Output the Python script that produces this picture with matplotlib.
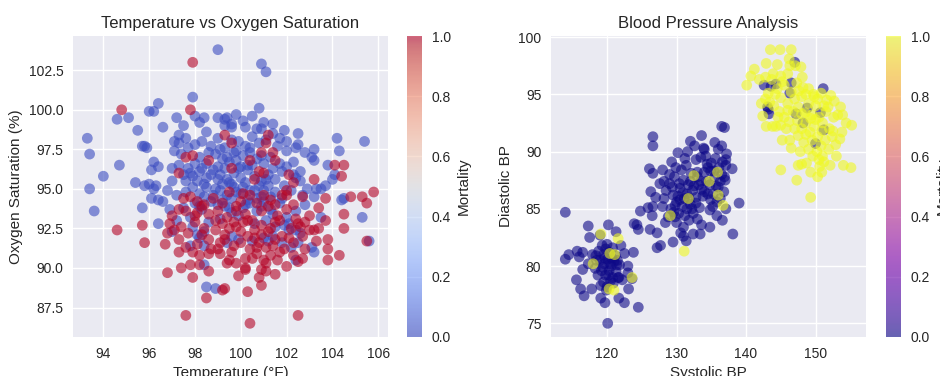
import numpy as np
import matplotlib
matplotlib.use("Agg")
import matplotlib.pyplot as plt

# ---------------- Left chart data: Temperature vs Oxygen saturation ----------------
# survivors (mortality 0)
surv_temp = [99.0, 100.9, 101.1, 97.9, 96.4, 96.0, 96.2, 94.6, 95.1, 93.3, 93.4, 95.5, 95.7, 95.9, 95.8,
             94.7, 94.0, 93.4, 93.6, 95.4, 95.8, 96.0, 96.3, 96.2, 96.2, 96.4, 96.1, 96.6, 96.1, 96.4,
             96.6, 95.7, 96.4, 97.1, 97.3, 97.1, 97.4, 97.0, 97.3, 97.7, 97.2, 97.5, 97.3, 97.6, 98.0,
             98.4, 98.2, 99.0, 99.3, 99.4, 99.6, 99.3, 99.8, 100.2, 100.5, 100.7, 100.9, 100.8, 101.4,
             101.4, 101.9, 102.5, 102.5, 102.4, 102.8, 102.0, 102.3, 102.6, 103.2, 103.1, 103.2, 104.2,
             104.3, 103.8, 104.1, 104.0, 103.7, 103.3, 103.5, 104.5, 104.4, 103.2, 105.4, 105.3, 105.6,
             103.5, 103.1, 103.2, 102.7, 102.6, 102.3, 102.5, 102.2, 102.4, 102.0, 102.1, 102.1, 98.5,
             98.9, 98.4, 97.8, 98.4, 99.9, 99.4, 101.2, 101.0, 98.1, 97.9, 98.4,
             98.3, 98.7, 99.0, 99.3, 99.6, 99.9, 100.2, 100.5, 100.8, 101.1, 98.0, 99.8, 100.4, 101.6, 102.0,
             98.2, 98.5, 98.9, 99.2, 99.5, 99.8, 100.1, 100.3, 100.7, 101.0, 101.3, 101.7, 102.0, 98.0, 99.0,
             97.6, 97.9, 98.2, 98.5, 98.8, 99.1, 99.4, 99.7, 100.0, 100.3, 100.6, 100.9, 101.2, 101.5, 101.8,
             102.4, 98.4, 99.2,
             97.6, 97.9, 98.2, 98.5, 98.8, 99.1, 99.4, 99.7, 100.0, 100.3, 100.6, 100.9, 101.2, 101.5, 101.8,
             102.2, 99.6,
             97.5, 98.0, 98.3, 98.7, 99.3, 99.6, 100.1, 100.4, 100.7, 101.0, 101.3, 101.7, 102.4,
             97.2, 97.8, 98.6, 99.1, 99.9, 100.6, 101.1, 101.5, 101.9, 102.4,
             97.0, 98.2, 99.6, 100.5, 101.4, 101.8, 102.6,
             98.6, 99.1, 99.4, 99.7, 100.0, 100.4, 100.9, 98.3, 98.7, 99.0, 99.3, 99.6, 99.9, 100.2,
             100.5, 100.8, 101.1, 101.4, 98.1, 98.4, 98.9, 99.2, 99.5, 99.8, 100.1, 100.4, 100.7, 101.0,
             101.3, 98.2, 99.0, 99.5, 100.2, 100.9, 101.4, 97.8, 97.5, 97.0, 96.8, 97.2, 96.9, 102.8,
             102.9, 101.9, 97.7, 98.5, 99.6, 100.1, 101.0, 101.7]
surv_o2 = [103.8, 102.9, 102.4, 100.8, 100.4, 99.9, 99.9, 99.4, 99.5, 98.2, 97.2, 98.7, 97.7, 97.6, 97.7,
           96.5, 95.8, 95.0, 93.6, 95.4, 95.2, 95.3, 95.2, 95.0, 96.7, 96.4, 96.2, 98.9, 94.4, 94.3,
           94.2, 93.8, 92.8, 98.0, 97.9, 97.4, 97.2, 96.3, 96.5, 96.3, 99.5, 99.0, 98.4, 98.2, 99.6,
           99.5, 99.2, 99.5, 99.4, 99.5, 98.9, 99.0, 99.7, 98.9, 99.6, 98.8, 98.8, 100.1, 99.1,
           98.5, 98.7, 98.5, 97.8, 97.6, 97.3, 97.4, 96.7, 96.1, 97.5, 97.0, 96.8, 98.2,
           97.4, 96.5, 95.9, 95.6, 95.2, 95.0, 95.0, 94.4, 94.3, 94.5, 98.0, 93.2, 91.7,
           93.2, 91.3, 91.0, 94.6, 95.5, 95.9, 91.6, 91.3, 90.5, 93.2, 92.8, 92.4, 88.8,
           88.7, 90.2, 91.4, 91.4, 91.8, 91.6, 91.7, 91.9, 92.1, 92.6, 92.3,
           98.0, 97.7, 98.2, 97.6, 98.1, 98.0, 97.7, 98.3, 97.9, 98.1, 97.8, 97.4, 97.3, 97.7, 98.0,
           97.0, 96.6, 97.2, 96.9, 96.7, 96.8, 97.1, 96.5, 96.9, 96.6, 97.0, 96.6, 96.4, 96.6, 96.4,
           95.5, 95.8, 96.1, 95.7, 96.2, 95.9, 95.6, 96.0, 95.7, 96.2, 95.8, 95.5, 95.9, 95.6, 96.1,
           95.7, 95.3, 95.3,
           94.8, 95.1, 94.7, 95.1, 94.6, 94.9, 94.6, 95.1, 94.7, 94.3, 94.9, 94.5, 95.2, 94.8, 94.4,
           94.9, 94.4,
           93.8, 94.1, 93.7, 94.2, 93.9, 93.5, 93.8, 94.1, 93.6, 94.2, 93.7, 94.1, 93.6,
           93.0, 93.2, 92.9, 93.1, 93.3, 92.8, 93.0, 92.6, 92.7, 92.4,
           92.3, 91.9, 92.0, 91.7, 92.0, 91.6, 92.2,
           97.3, 97.5, 97.0, 97.3, 96.4, 97.6, 97.1, 96.3, 95.9, 95.6, 96.3, 95.3, 96.3, 95.4,
           96.5, 95.2, 95.6, 96.3, 95.5, 94.5, 95.0, 94.3, 95.4, 94.8, 95.1, 94.9, 94.4, 94.9,
           94.5, 93.9, 94.0, 93.8, 94.0, 93.9, 93.4, 96.0, 95.9, 95.5, 94.9, 94.6, 93.7, 94.0,
           95.0, 95.2, 97.6, 98.6, 99.1, 99.3, 99.2, 98.2]

# deaths (mortality 1)
died_temp = [97.9, 94.8, 97.8, 94.6, 95.7, 95.8, 96.7, 96.8, 97.4, 97.3, 97.9, 97.8, 98.2, 98.5, 98.6,
             97.6, 99.2, 99.3, 100.3, 100.4, 102.5, 100.8, 100.9, 101.1, 100.9, 101.1, 102.0, 102.3,
             102.5, 102.7, 103.8, 104.3, 103.8, 103.8, 103.3, 103.0, 103.2, 103.4, 103.7, 104.5, 104.5,
             103.7, 104.8, 105.3, 105.5, 105.8, 105.5, 104.1, 104.5, 104.4, 103.2, 102.7, 102.3, 102.6,
             102.8, 99.3, 101.2, 101.1, 99.6, 100.9, 101.4, 101.5, 100.4, 97.3, 97.9, 97.6, 98.6, 99.6,
             100.6, 101.0, 100.8, 102.1, 102.3, 102.0,
             97.5, 97.8, 98.1, 98.4, 98.8, 99.5, 100.0, 100.4, 101.0, 101.5, 101.8, 102.0,
             97.0, 97.3, 97.6, 98.1, 98.3, 98.6, 99.0, 99.4, 99.8, 100.2, 100.5, 100.9, 101.2, 101.6,
             102.0, 102.4,
             96.9, 97.4, 97.7, 98.0, 98.4, 98.9, 99.2, 99.5, 99.8, 100.1, 100.3, 100.6, 100.9, 101.2,
             101.5, 101.8, 102.2, 102.7,
             96.8, 97.3, 98.1, 98.6, 99.0, 99.3, 99.7, 100.0, 100.4, 100.8, 101.1, 101.5, 101.9, 102.3,
             98.6, 99.1, 99.5, 99.8, 100.2, 100.5, 100.7, 101.3, 101.6,
             98.9, 99.3, 99.7, 100.0, 100.3, 100.6, 100.9, 101.3, 99.1, 99.6, 100.2, 100.7, 101.0, 101.4,
             98.3, 98.7, 97.9, 98.0, 99.2, 99.8, 100.7, 101.3, 100.1, 101.7, 102.1, 102.5, 101.7, 99.4,
             98.2, 97.1, 97.6, 99.9, 100.2, 101.5, 102.8, 103.4, 103.0]
died_o2 = [103.0, 100.0, 100.0, 92.4, 92.7, 91.6, 91.5, 89.7, 90.0, 91.0, 89.4, 90.2, 90.2, 88.1, 89.8,
           87.0, 88.6, 88.7, 88.5, 86.5, 87.0, 89.4, 88.9, 89.8, 89.9, 90.3, 90.1, 90.8,
           90.4, 90.6, 90.5, 90.8, 91.2, 91.8, 91.7, 92.4, 92.4, 92.5, 93.0, 92.5, 93.4,
           94.4, 94.5, 94.5, 94.1, 94.8, 91.7, 96.5, 96.5, 95.8, 95.6, 94.5, 94.0, 92.6,
           92.9, 98.4, 98.4, 97.9, 97.9, 97.3, 97.3, 96.8, 96.8, 96.0, 97.1, 97.0, 96.8, 96.3,
           95.6, 96.0, 96.1, 95.9, 95.4, 94.6,
           94.4, 94.5, 94.2, 94.0, 94.4, 94.8, 94.2, 94.6, 94.6, 94.0, 94.6, 94.9,
           93.3, 93.7, 93.6, 93.5, 93.9, 93.4, 93.6, 93.2, 93.9, 93.4, 93.0, 93.6, 93.9, 93.3,
           93.7, 93.1,
           92.8, 92.6, 92.2, 92.9, 92.5, 92.4, 92.8, 92.5, 92.6, 92.9, 93.0, 92.4, 92.7, 92.3,
           92.9, 92.0, 92.5, 92.0,
           92.2, 91.8, 91.5, 91.8, 91.2, 91.8, 91.4, 91.6, 91.2, 91.6, 91.3, 91.8, 91.2, 91.6,
           90.9, 90.9, 90.5, 90.3, 90.0, 90.6, 90.9, 90.8, 90.5,
           93.0, 92.1, 92.9, 92.3, 92.0, 91.9, 92.1, 92.5, 91.6, 91.0, 90.6, 91.3, 90.5, 91.4,
           92.1, 91.2, 91.0, 93.3, 94.1, 93.6, 94.1, 94.3, 94.7, 93.0, 91.9, 92.8, 91.0, 90.3,
           90.8, 92.4, 91.3, 89.5, 89.9, 89.6, 91.2, 93.8, 93.3]

# ---------------- Right chart data: Blood pressure ----------------
# cluster around 120/80 (mostly survivors)
bp_low_sys = [114.0, 115.7, 116.5, 114.5, 114.0, 116.0, 117.3, 117.5, 119.0, 120.2, 121.3, 123.9, 124.5,
              123.8, 122.5, 123.0, 121.5, 118.4, 117.3, 116.5, 115.6, 116.2, 116.7, 117.8, 119.1, 119.7,
              120.1, 121.7, 122.5, 124.5, 123.1, 122.2, 123.6, 123.0, 121.6,
              118.8, 119.3, 119.8, 120.3, 120.8, 121.2, 119.0, 119.6, 120.1, 120.6, 121.0, 119.2, 119.8,
              120.3, 120.8, 121.3, 118.7, 119.5, 120.0, 120.5, 119.9, 121.8, 118.3, 117.9, 122.0,
              119.5, 120.0, 120.7, 121.4, 119.4, 120.2, 120.9, 119.1, 118.5, 121.7, 120.4, 119.7]
bp_low_dia = [84.7, 81.3, 81.2, 81.0, 80.6, 80.8, 83.5, 82.5, 82.7, 83.6, 83.0, 83.7, 83.2,
              81.2, 81.1, 80.0, 80.5, 80.9, 80.2, 79.7, 78.8, 78.0, 77.4, 78.0, 77.2, 76.8,
              75.0, 77.2, 76.8, 76.4, 78.0, 78.8, 78.9, 79.4, 79.0,
              81.3, 81.8, 81.5, 81.2, 81.6, 80.9, 80.5, 80.2, 80.6, 80.0, 80.4, 79.6, 79.2,
              79.6, 79.0, 79.5, 79.2, 78.6, 78.2, 78.7, 77.9, 80.1, 79.8, 81.0, 81.8,
              81.0, 81.9, 80.7, 80.1, 79.9, 79.2, 78.5, 78.3, 80.5, 79.0, 80.2, 80.7]
bp_low_d_sys = [119.1, 121.6, 120.4, 121.1, 118.0, 123.6, 121.0, 120.3]
bp_low_d_dia = [82.8, 82.4, 81.1, 81.0, 80.2, 79.0, 77.9, 78.0]

# cluster around 132/86 (mostly survivors)
bp_mid_sys = [126.6, 126.6, 126.1, 126.6, 128.0, 129.3, 130.2, 131.6, 132.0, 132.6, 133.6, 134.0, 135.5,
              136.0, 136.5, 136.9, 136.5, 137.2, 137.1, 137.1, 138.0, 137.0, 139.0, 137.1, 136.6, 135.8,
              134.8, 133.6, 134.8, 133.4, 132.4, 131.0, 131.4, 129.5, 127.7, 127.2, 126.2, 127.2, 124.3,
              124.8, 125.9, 126.6, 126.5, 128.4, 126.3, 127.0, 128.2, 138.1, 129.8, 130.6,
              128.5, 129.0, 129.5, 130.0, 130.5, 131.0, 131.5, 132.0, 132.5, 133.0, 133.5, 134.0, 134.5,
              135.0, 135.5, 136.0, 136.5, 129.2, 129.8, 130.3, 130.8, 131.2, 131.8, 132.3, 132.8, 133.3,
              133.8, 134.3, 134.8, 135.3, 135.8, 136.3, 136.8, 128.2, 129.0, 129.7, 130.7, 131.4, 132.1,
              132.8, 133.5, 134.2, 134.9, 135.6, 130.0, 131.0, 131.8, 132.4, 133.0, 128.8, 129.4, 130.2,
              131.1, 132.0, 133.2, 134.0, 135.2, 136.1, 136.9, 127.6, 128.0,
              130.4, 131.7, 133.0, 134.5, 135.7, 130.9, 132.2, 133.6, 134.9, 136.3, 129.6, 130.5, 131.5,
              132.8, 134.4, 135.4, 136.6, 133.9, 131.2, 129.9]
bp_mid_dia = [91.3, 90.5, 88.5, 88.1, 88.4, 89.1, 89.9, 90.0, 90.9, 90.5, 91.4, 90.2, 90.8,
              90.2, 92.2, 92.1, 90.5, 89.8, 89.3, 88.8, 88.5, 87.5, 85.5, 85.0, 84.0, 84.4,
              84.9, 83.6, 83.4, 82.8, 82.8, 82.6, 82.2, 82.1, 81.8, 81.6, 83.2, 82.9, 83.6,
              84.8, 85.1, 85.2, 84.4, 83.8, 86.5, 86.0, 85.9, 82.8, 84.3, 82.9,
              86.6, 87.2, 86.2, 85.6, 86.8, 87.5, 86.3, 85.4, 87.0, 88.2, 87.4, 86.5, 88.6,
              89.0, 87.8, 86.9, 88.0, 85.0, 85.3, 84.6, 85.2, 84.4, 85.9, 86.6, 86.0, 85.1,
              86.1, 87.4, 87.1, 86.3, 85.6, 87.4, 86.5, 87.4, 88.0, 87.8, 88.4, 88.8, 88.1,
              89.3, 89.5, 89.6, 88.3, 89.4, 83.8, 83.4, 84.0, 84.6, 84.1, 84.3, 86.9, 86.1,
              85.9, 87.4, 87.1, 88.2, 85.2, 88.6, 87.8, 87.2, 85.2,
              87.2, 87.1, 87.8, 86.3, 87.0, 86.4, 85.0, 86.7, 85.8, 85.9, 84.7, 85.8, 85.0,
              85.5, 88.9, 88.3, 89.1, 90.3, 89.4, 88.6]
bp_mid_d_sys = [131.7, 129.1, 135.9, 136.0, 136.7, 132.5, 131.1, 134.7]
bp_mid_d_dia = [85.9, 84.4, 88.2, 86.2, 85.3, 87.9, 81.3, 87.4]

# cluster around 148/93 (mostly deaths)
bp_high_sys = [140.1, 140.7, 141.2, 141.9, 143.5, 144.9, 146.5, 146.2, 147.1, 147.9, 144.5, 142.9, 143.9,
               142.8, 148.1, 148.2, 149.7, 152.2, 152.7, 153.6, 153.2, 154.4, 155.2, 153.8, 152.5, 153.5,
               152.9, 153.0, 154.0, 155.1, 152.1, 151.0, 150.9, 150.3, 149.3, 148.0, 147.3, 145.0, 149.3,
               145.2, 146.3, 142.9, 143.8, 144.3, 142.4, 142.8, 143.2, 143.4,
               144.5, 145.0, 145.5, 146.0, 146.5, 147.0, 147.5, 148.0, 148.5, 149.0, 149.5, 150.0, 150.5,
               151.0, 151.5, 152.0, 144.8, 145.5, 146.2, 146.8, 147.4, 148.0, 148.6, 149.2, 149.8, 150.3,
               150.8, 151.4, 147.5, 148.3, 149.0, 149.6, 150.2, 148.7, 145.0, 146.0, 147.3, 144.0, 151.8,
               152.6, 146.5, 147.8, 150.5, 151.2, 145.8, 149.0, 150.3, 151.2,
               145.2, 146.3, 147.6, 148.6, 149.8, 150.8, 151.6, 144.2, 145.0, 146.0, 147.0, 148.0, 149.3,
               150.0, 150.9, 149.5, 148.6, 147.5, 150.6, 151.9, 152.4, 153.9, 142.2, 143.7, 144.6]
bp_high_dia = [95.8, 96.6, 97.2, 96.3, 98.9, 98.9, 98.9, 98.1, 97.5, 97.4, 97.6, 97.7, 96.8,
               96.5, 96.5, 95.6, 95.0, 94.9, 94.4, 93.9, 93.2, 92.5, 92.3, 91.7, 91.8, 91.1,
               90.6, 89.6, 88.8, 88.6, 88.8, 89.6, 88.2, 87.8, 88.2, 88.9, 87.5, 88.4, 86.0,
               91.0, 91.0, 92.2, 92.2, 92.2, 93.1, 94.6, 95.1, 94.3,
               95.5, 94.7, 95.8, 94.2, 95.2, 94.6, 93.9, 94.8, 93.4, 94.2, 93.2, 94.0, 93.0,
               92.5, 93.5, 92.0, 93.5, 93.0, 92.6, 93.5, 92.7, 92.0, 92.5, 91.7, 92.2, 91.3,
               90.5, 91.0, 91.4, 90.8, 90.2, 89.6, 90.0, 89.0, 96.6, 96.8, 96.0, 94.0, 93.9,
               93.0, 90.3, 90.0, 89.3, 89.1, 92.0, 95.5, 94.6, 94.0,
               96.1, 97.5, 95.3, 95.0, 94.8, 95.1, 94.5, 95.0, 92.3, 93.6, 92.0, 93.3, 92.9,
               92.8, 91.8, 91.0, 91.5, 88.8, 88.7, 90.2, 91.3, 93.2, 94.2, 96.3, 93.0]
bp_high_s_sys = [147.0, 142.6, 143.6, 144.3, 146.3, 143.2, 143.3, 143.1, 151.1, 148.8, 150.7, 148.2,
                 150.0, 151.2, 147.2, 146.5]
bp_high_s_dia = [97.8, 95.8, 95.7, 95.9, 95.1, 93.7, 93.3, 93.9, 95.5, 93.8, 93.4, 92.5,
                 90.7, 91.9, 93.3, 96.0]

# ---------------- assemble ----------------
temperature = np.array(surv_temp + died_temp)
oxygen = np.array(surv_o2 + died_o2)
mortality_t = np.array([0] * len(surv_temp) + [1] * len(died_temp))

systolic = np.array(bp_low_sys + bp_low_d_sys + bp_mid_sys + bp_mid_d_sys + bp_high_s_sys + bp_high_sys)
diastolic = np.array(bp_low_dia + bp_low_d_dia + bp_mid_dia + bp_mid_d_dia + bp_high_s_dia + bp_high_dia)
mortality_bp = np.array([0] * len(bp_low_sys) + [1] * len(bp_low_d_sys) + [0] * len(bp_mid_sys)
                        + [1] * len(bp_mid_d_sys) + [0] * len(bp_high_s_sys) + [1] * len(bp_high_sys))

plt.style.use('seaborn-v0_8')
fig = plt.figure(figsize=(9.4, 3.76), dpi=100)

W, H = 940.0, 376.0
def rect(x0, y0, x1, y1):
    return [x0 / W, 1 - y1 / H, (x1 - x0) / W, (y1 - y0) / H]

ax1 = fig.add_axes(rect(73, 36, 388, 337))
cax1 = fig.add_axes(rect(407, 36, 422, 337))
ax2 = fig.add_axes(rect(551, 36, 866, 337))
cax2 = fig.add_axes(rect(886, 36, 901, 337))

sc1 = ax1.scatter(temperature, oxygen, c=mortality_t, cmap='coolwarm', alpha=0.6, s=60, edgecolors='none')
ax1.set_title('Temperature vs Oxygen Saturation', fontsize=12)
ax1.set_xlabel('Temperature (°F)', fontsize=11)
ax1.set_ylabel('Oxygen Saturation (%)', fontsize=11)
cb1 = fig.colorbar(sc1, cax=cax1)
cb1.set_label('Mortality', fontsize=11)

sc2 = ax2.scatter(systolic, diastolic, c=mortality_bp, cmap='plasma', alpha=0.6, s=60, edgecolors='none')
ax2.set_title('Blood Pressure Analysis', fontsize=12)
ax2.set_xlabel('Systolic BP', fontsize=11)
ax2.set_ylabel('Diastolic BP', fontsize=11)
cb2 = fig.colorbar(sc2, cax=cax2)
cb2.set_label('Mortality', fontsize=11)

for cb in (cb1, cb2):
    cb.outline.set_visible(False)
    cb.ax.tick_params(labelsize=10)
for ax in (ax1, ax2):
    ax.tick_params(labelsize=10)

fig.savefig('out.png', dpi=100)
